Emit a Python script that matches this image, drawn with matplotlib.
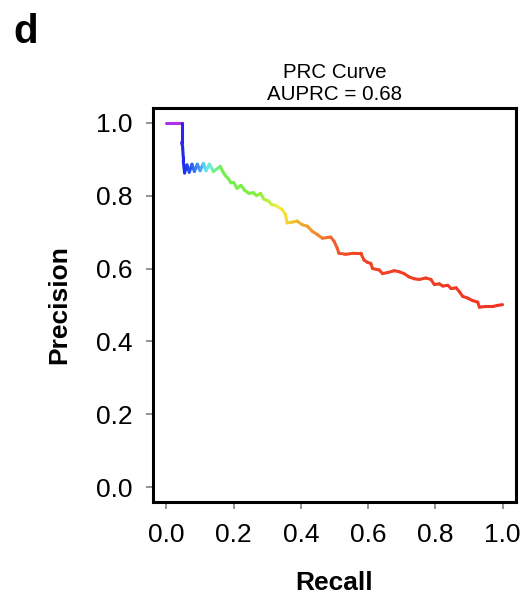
import numpy as np
import matplotlib
matplotlib.use("Agg")
import matplotlib.pyplot as plt
from matplotlib.collections import LineCollection
from matplotlib.colors import LinearSegmentedColormap

plt.rcParams['font.family'] = ['Liberation Sans', 'DejaVu Sans']

# PR curve points
recall = [0.000, 0.045, 0.045, 0.048, 0.050, 0.050, 0.054,
          0.061, 0.068, 0.076, 0.083, 0.092, 0.100, 0.110, 0.118,
          0.128, 0.140, 0.160,
          0.168, 0.175, 0.185, 0.192, 0.200, 0.210, 0.222, 0.232, 0.245,
          0.258, 0.268, 0.280, 0.290, 0.304, 0.312, 0.324, 0.344, 0.354,
          0.359, 0.374, 0.389, 0.404, 0.419, 0.434, 0.449, 0.464, 0.478,
          0.489, 0.499, 0.508, 0.513, 0.533, 0.558, 0.578, 0.588, 0.598,
          0.608, 0.613, 0.633, 0.643, 0.658, 0.678, 0.693, 0.707, 0.722,
          0.737, 0.752, 0.772, 0.787, 0.797, 0.812, 0.822, 0.837, 0.847,
          0.862, 0.872, 0.881, 0.896, 0.911, 0.926, 0.931, 0.951, 0.971,
          0.986, 1.000]
precision = [1.000, 1.000, 0.945, 0.935, 0.905, 0.895, 0.862,
             0.884, 0.864, 0.886, 0.866, 0.886, 0.868, 0.888, 0.868,
             0.886, 0.866, 0.880,
             0.865, 0.855, 0.845, 0.835, 0.836, 0.820, 0.828, 0.815, 0.806,
             0.808, 0.800, 0.806, 0.790, 0.785, 0.776, 0.773, 0.762, 0.748,
             0.725, 0.727, 0.730, 0.720, 0.716, 0.702, 0.693, 0.683, 0.685,
             0.686, 0.674, 0.656, 0.642, 0.639, 0.642, 0.642, 0.623, 0.617,
             0.614, 0.600, 0.596, 0.586, 0.589, 0.594, 0.591, 0.586, 0.577,
             0.572, 0.570, 0.574, 0.570, 0.556, 0.558, 0.552, 0.554, 0.545,
             0.547, 0.536, 0.524, 0.519, 0.512, 0.508, 0.494, 0.496, 0.496,
             0.499, 0.501]

# colour stops along recall (cutoff colouring)
stop_recall = [0.0, 0.03, 0.045, 0.07, 0.095, 0.12, 0.14, 0.16, 0.27, 0.30,
               0.34, 0.38, 0.44, 0.50, 0.56, 1.0]
stop_color = ['#b030e8', '#b030e8', '#2020f0', '#2050f0', '#4090f0', '#60e8f0',
              '#70f0b0', '#70f050', '#80f040', '#b8f040', '#f8ec40', '#f0c030',
              '#f09030', '#f06030', '#f04525', '#f03525']

cmap = LinearSegmentedColormap.from_list(
    'prc', list(zip(stop_recall, stop_color)))

fig = plt.figure(figsize=(5.28, 5.98), dpi=100)
ax = fig.add_axes([153 / 528, 1 - 502 / 598, 363 / 528, 394 / 598])

pts = np.column_stack([recall, precision])
segs = np.stack([pts[:-1], pts[1:]], axis=1)
mid = (np.array(recall[:-1]) + np.array(recall[1:])) / 2
lc = LineCollection(segs, colors=cmap(mid), linewidths=2.2, capstyle='round',
                    joinstyle='round')
ax.add_collection(lc)

ax.set_xlim(-0.04, 1.04)
ax.set_ylim(-0.04, 1.04)
ax.set_xticks(np.arange(0, 1.01, 0.2))
ax.set_yticks(np.arange(0, 1.01, 0.2))
ax.xaxis.set_major_formatter(matplotlib.ticker.FormatStrFormatter('%.1f'))
ax.yaxis.set_major_formatter(matplotlib.ticker.FormatStrFormatter('%.1f'))
ax.tick_params(direction='out', length=5, width=1.2, color='#808080',
               labelsize=19, pad=10)

for s in ax.spines.values():
    s.set_linewidth(2.2)
    s.set_color('black')

ax.set_xlabel('Recall', fontsize=19, fontweight='bold')
ax.set_ylabel('Precision', fontsize=19, fontweight='bold')
ax.xaxis.set_label_coords(0.5, -0.175)
ax.yaxis.set_label_coords(-0.225, 0.5)

ax.set_title('PRC Curve\nAUPRC = 0.68', fontsize=14.8, pad=6, linespacing=1.2)

fig.text(13 / 528, 1 - 43 / 598, 'd', fontsize=29, fontweight='bold',
         va='baseline', ha='left')

fig.savefig('out.png', dpi=100)
